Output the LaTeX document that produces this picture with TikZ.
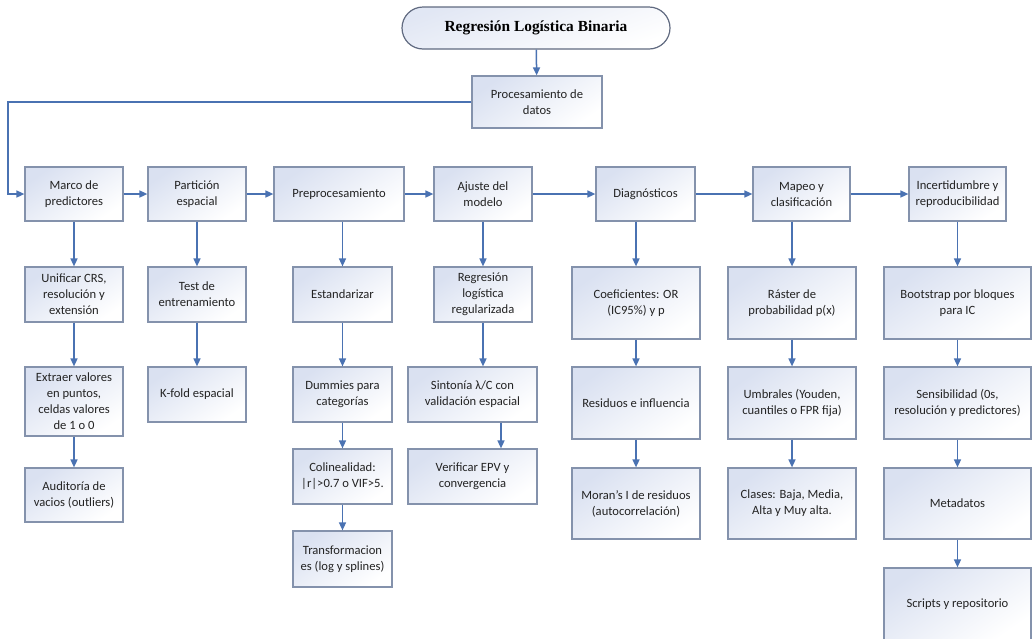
\documentclass[tikz,border=0pt]{standalone}
\usepackage{fontspec}
\setmainfont{Carlito}
\newfontfamily\titlefont{Liberation Serif}
\usetikzlibrary{arrows.meta,calc}

\definecolor{arrowblue}{RGB}{74,114,178}
\definecolor{boxedge}{RGB}{132,146,172}
\definecolor{boxtint}{RGB}{218,225,241}
\definecolor{titleedge}{RGB}{96,106,128}
\definecolor{txt}{RGB}{35,35,35}

\tikzset{
  flowbox/.style={draw=boxedge, line width=1.2pt, top color=boxtint, bottom color=white,
    shading angle=35, align=center, inner sep=0pt, text=txt,
    font=\fontsize{12.6}{16}\selectfont},
  titlebox/.style={draw=titleedge, line width=1.2pt, top color=boxtint!80, bottom color=white,
    shading angle=20, rounded corners=21pt, align=center, inner sep=0pt, text=black,
    font=\titlefont\bfseries\fontsize{15.4}{18}\selectfont},
  link/.style={draw=arrowblue, line width=1.5pt, -{Triangle[length=8pt,width=7pt]}}
}

\begin{document}
\begin{tikzpicture}[x=1pt,y=-1pt]
\useasboundingbox (0,0) rectangle (1036,638);

% header
\node[titlebox, minimum width=268, minimum height=42] (title) at (536,28) {Regresión Logística Binaria};
\node[flowbox, minimum width=130, minimum height=52] (proc) at (537,102) {Procesamiento de\\datos};

% main row of stages
\node[flowbox, minimum width=98,  minimum height=54] (marco)  at (74,194)    {Marco de\\predictores};
\node[flowbox, minimum width=98,  minimum height=54] (part)   at (197,194)   {Partición\\espacial};
\node[flowbox, minimum width=130, minimum height=54] (prep)   at (339,194)   {Preprocesamiento};
\node[flowbox, minimum width=98,  minimum height=54] (ajuste) at (483,194)   {Ajuste del\\modelo};
\node[flowbox, minimum width=99,  minimum height=54] (diag)   at (645.5,194) {Diagnósticos};
\node[flowbox, minimum width=97,  minimum height=54] (mapeo)  at (801.5,194) {Mapeo y\\clasificación};
\node[flowbox, minimum width=97,  minimum height=54] (incert) at (957.5,194) {Incertidumbre y\\reproducibilidad};

% column 1
\node[flowbox, minimum width=98, minimum height=55] (unif)   at (74,294.5) {Unificar CRS,\\resolución y\\extensión};
\node[flowbox, minimum width=98, minimum height=69] (extr)   at (74,401.5) {Extraer valores\\en puntos,\\celdas valores\\de 1 o 0};
\node[flowbox, minimum width=98, minimum height=54] (audit)  at (74,495)   {Auditoría de\\vacios (outliers)};

% column 2
\node[flowbox, minimum width=98, minimum height=55] (test)   at (197,294.5) {Test de\\entrenamiento};
\node[flowbox, minimum width=98, minimum height=55] (kfold)  at (197,394.5) {K-fold espacial};

% column 3
\node[flowbox, minimum width=99, minimum height=55] (estand) at (342.5,294.5) {Estandarizar};
\node[flowbox, minimum width=99, minimum height=55] (dumm)   at (342.5,394.5) {Dummies para\\categorías};
\node[flowbox, minimum width=99, minimum height=55] (colin)  at (342.5,476.5) {Colinealidad:\\|r|>0.7 o VIF>5.};
\node[flowbox, minimum width=99, minimum height=56] (transf) at (342.5,559)   {Transformacion\\es (log y splines)};

% column 4
\node[flowbox, minimum width=98,  minimum height=55] (regr)  at (483,294.5)   {Regresión\\logística\\regularizada};
\node[flowbox, minimum width=129, minimum height=55] (sint)  at (472.5,394.5) {Sintonía λ/C con\\validación espacial};
\node[flowbox, minimum width=129, minimum height=55] (verif) at (472.5,476.5) {Verificar EPV y\\convergencia};

% column 5
\node[flowbox, minimum width=128, minimum height=72] (coef)  at (636,303)   {Coeficientes: OR\\(IC95\%) y p};
\node[flowbox, minimum width=128, minimum height=72] (resid) at (636,403)   {Residuos e influencia};
\node[flowbox, minimum width=128, minimum height=71] (moran) at (636,503.5) {Moran’s I de residuos\\(autocorrelación)};

% column 6
\node[flowbox, minimum width=128, minimum height=72] (raster) at (792,303)   {Ráster de\\probabilidad p(x)};
\node[flowbox, minimum width=128, minimum height=72] (umbr)   at (792,403)   {Umbrales (Youden,\\cuantiles o FPR fija)};
\node[flowbox, minimum width=128, minimum height=71] (clases) at (792,503.5) {Clases: Baja, Media,\\Alta y Muy alta.};

% column 7
\node[flowbox, minimum width=147, minimum height=72] (boot)    at (957.5,303)   {Bootstrap por bloques\\para IC};
\node[flowbox, minimum width=147, minimum height=72] (sens)    at (957.5,403)   {Sensibilidad (0s,\\resolución y predictores)};
\node[flowbox, minimum width=147, minimum height=71] (meta)    at (957.5,503.5) {Metadatos};
\node[flowbox, minimum width=147, minimum height=72] (scripts) at (957.5,604)   {Scripts y repositorio};

% routing helpers
\coordinate (fb) at (8,0);
\coordinate (sv) at (501,0);

% header links
\draw[link] (title) -- (proc);
\draw[link] (proc.west) -- (proc.west -| fb) |- (marco.west);

% main row links
\draw[link] (marco) -- (part);
\draw[link] (part) -- (prep);
\draw[link] (prep) -- (ajuste);
\draw[link] (ajuste) -- (diag);
\draw[link] (diag) -- (mapeo);
\draw[link] (mapeo) -- (incert);

% column links
\draw[link] (marco) -- (unif);
\draw[link] (unif) -- (extr);
\draw[link] (extr) -- (audit);

\draw[link] (part) -- (test);
\draw[link] (test) -- (kfold);

\draw[link] (prep.south -| estand.north) -- (estand.north);
\draw[link] (estand) -- (dumm);
\draw[link] (dumm) -- (colin);
\draw[link] (colin) -- (transf);

\draw[link] (ajuste) -- (regr);
\draw[link] (regr.south) -- (regr.south |- sint.north);
\draw[link] (sint.south -| sv) -- (verif.north -| sv);

\draw[link] (diag.south -| coef.north) -- (coef.north);
\draw[link] (coef) -- (resid);
\draw[link] (resid) -- (moran);

\draw[link] (mapeo.south -| raster.north) -- (raster.north);
\draw[link] (raster) -- (umbr);
\draw[link] (umbr) -- (clases);

\draw[link] (incert) -- (boot);
\draw[link] (boot) -- (sens);
\draw[link] (sens) -- (meta);
\draw[link] (meta) -- (scripts);
\end{tikzpicture}
\end{document}
